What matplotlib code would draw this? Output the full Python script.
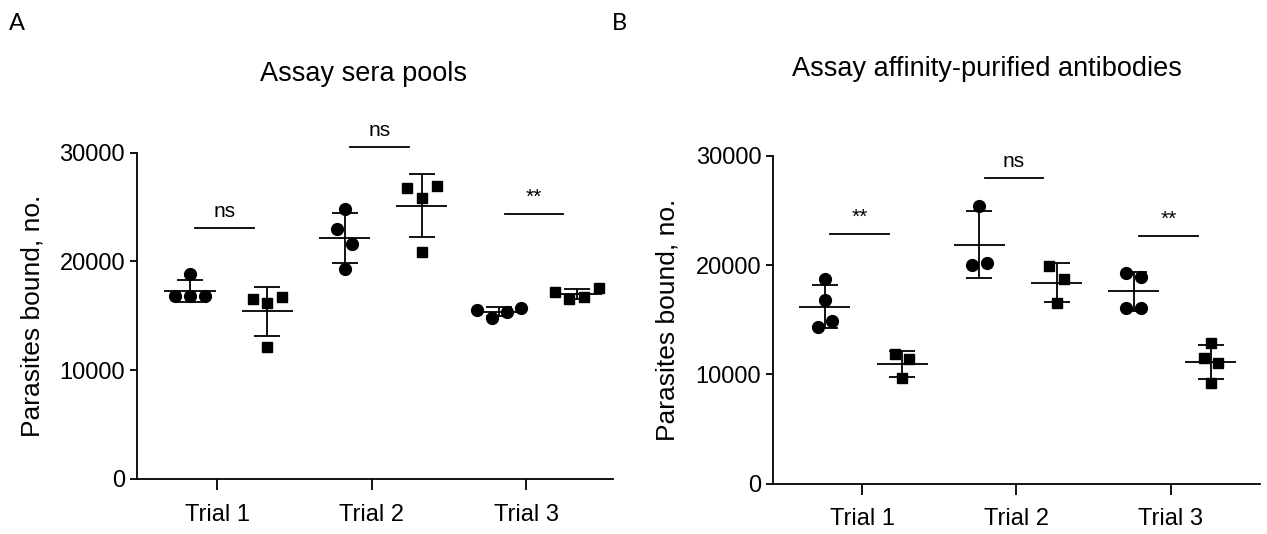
import numpy as np
import matplotlib.pyplot as plt

plt.rcParams['font.family'] = ['Liberation Sans', 'DejaVu Sans']

trials = ['Trial 1', 'Trial 2', 'Trial 3']

# panel A: sera pools (circles / squares per trial)
sera_circles = [
    [18850, 16800, 16850, 16800],
    [24810, 22970, 21620, 19320],
    [15550, 14780, 15390, 15760],
]
sera_squares = [
    [16530, 16220, 16770, 12100],
    [26770, 25880, 26980, 20880],
    [17230, 16530, 16720, 17540],
]
sera_sig = ['ns', 'ns', '**']
sera_sig_height = [23100, 30500, 24400]

# panel B: affinity-purified antibodies
ab_circles = [
    [18700, 16800, 14360, 14910],
    [25400, 20010, 20170],
    [19280, 18880, 16080, 16080],
]
ab_squares = [
    [11890, 11410, 9640],
    [19950, 18730, 16500],
    [12900, 11470, 11020, 9190],
]
ab_sig = ['**', 'ns', '**']
ab_sig_height = [22870, 27940, 22690]


def swarm_offsets(values, gap=1400, step=0.19):
    # points close in value share a row and are spread sideways
    order = np.argsort(values)[::-1]
    offsets = np.zeros(len(values))
    bins = []
    for i in order:
        if bins and values[bins[-1][-1]] - values[i] < gap:
            bins[-1].append(i)
        else:
            bins.append([i])
    for b in bins:
        b = sorted(b)
        for k, i in enumerate(b):
            offsets[i] = (k - (len(b) - 1) / 2) * step
    return offsets


def draw_panel(ax, circles, squares, sig, sig_h, tick_shift, xlim):
    lw = 1.3
    for i in range(len(trials)):
        for j, (vals, marker, ms) in enumerate([(circles[i], 'o', 8.5), (squares[i], 's', 7.5)]):
            x0 = 2 * i + j
            vals = np.array(vals, float)
            xs = x0 + swarm_offsets(vals)
            ax.plot(xs, vals, ls='none', marker=marker, ms=ms, color='black',
                    zorder=3, clip_on=False)
            m = vals.mean()
            sd = vals.std(ddof=1)
            ax.hlines(m, x0 - 0.33, x0 + 0.33, color='black', lw=lw, zorder=2)
            ax.errorbar(x0, m, yerr=sd, fmt='none', ecolor='black', elinewidth=lw,
                        capsize=9.2, capthick=lw, zorder=2)
        ax.plot([2 * i + 0.07, 2 * i + 0.83], [sig_h[i], sig_h[i]], color='black',
                lw=lw, clip_on=False)
        ax.annotate(sig[i], (2 * i + 0.45, sig_h[i]), xytext=(0, 8), textcoords='offset points',
                    ha='center', va='baseline', fontsize=15, annotation_clip=False)

    ax.set_xlim(*xlim)
    ax.set_ylim(0, 30000)
    ax.set_yticks([0, 10000, 20000, 30000])
    ax.set_xticks([2 * i + tick_shift for i in range(len(trials))])
    ax.set_xticklabels(trials)
    ax.spines['top'].set_visible(False)
    ax.spines['right'].set_visible(False)
    for s in ['left', 'bottom']:
        ax.spines[s].set_linewidth(1.3)
    ax.tick_params(axis='y', length=4.8, width=1.3, pad=3.8, labelsize=17)
    ax.tick_params(axis='x', length=7.7, width=1.3, pad=10, labelsize=17)
    ax.set_ylabel('Parasites bound, no.', fontsize=19)


fig = plt.figure(figsize=(12.67, 5.34), dpi=100)
ax1 = fig.add_axes([0.1081, 0.1030, 0.3757, 0.6110])
ax2 = fig.add_axes([0.6103, 0.0942, 0.3841, 0.6142])

draw_panel(ax1, sera_circles, sera_squares, sera_sig, sera_sig_height, 0.35, (-0.686, 5.47))
draw_panel(ax2, ab_circles, ab_squares, ab_sig, ab_sig_height, 0.48, (-0.67, 5.635))
ax1.yaxis.set_label_coords(-0.195, 0.5)
ax2.yaxis.set_label_coords(-0.192, 0.5)

fig.text(363 / 1267, 1 - 81 / 534, 'Assay sera pools', ha='center', va='baseline', fontsize=19.5)
fig.text(987 / 1267, 1 - 76 / 534, 'Assay affinity-purified antibodies', ha='center',
         va='baseline', fontsize=19.5)
fig.text(9 / 1267, 1 - 13 / 534, 'A', ha='left', va='top', fontsize=17, family=['Lato', 'DejaVu Sans'])
fig.text(612 / 1267, 1 - 13 / 534, 'B', ha='left', va='top', fontsize=17, family=['Lato', 'DejaVu Sans'])

fig.savefig('out.png', dpi=100)
